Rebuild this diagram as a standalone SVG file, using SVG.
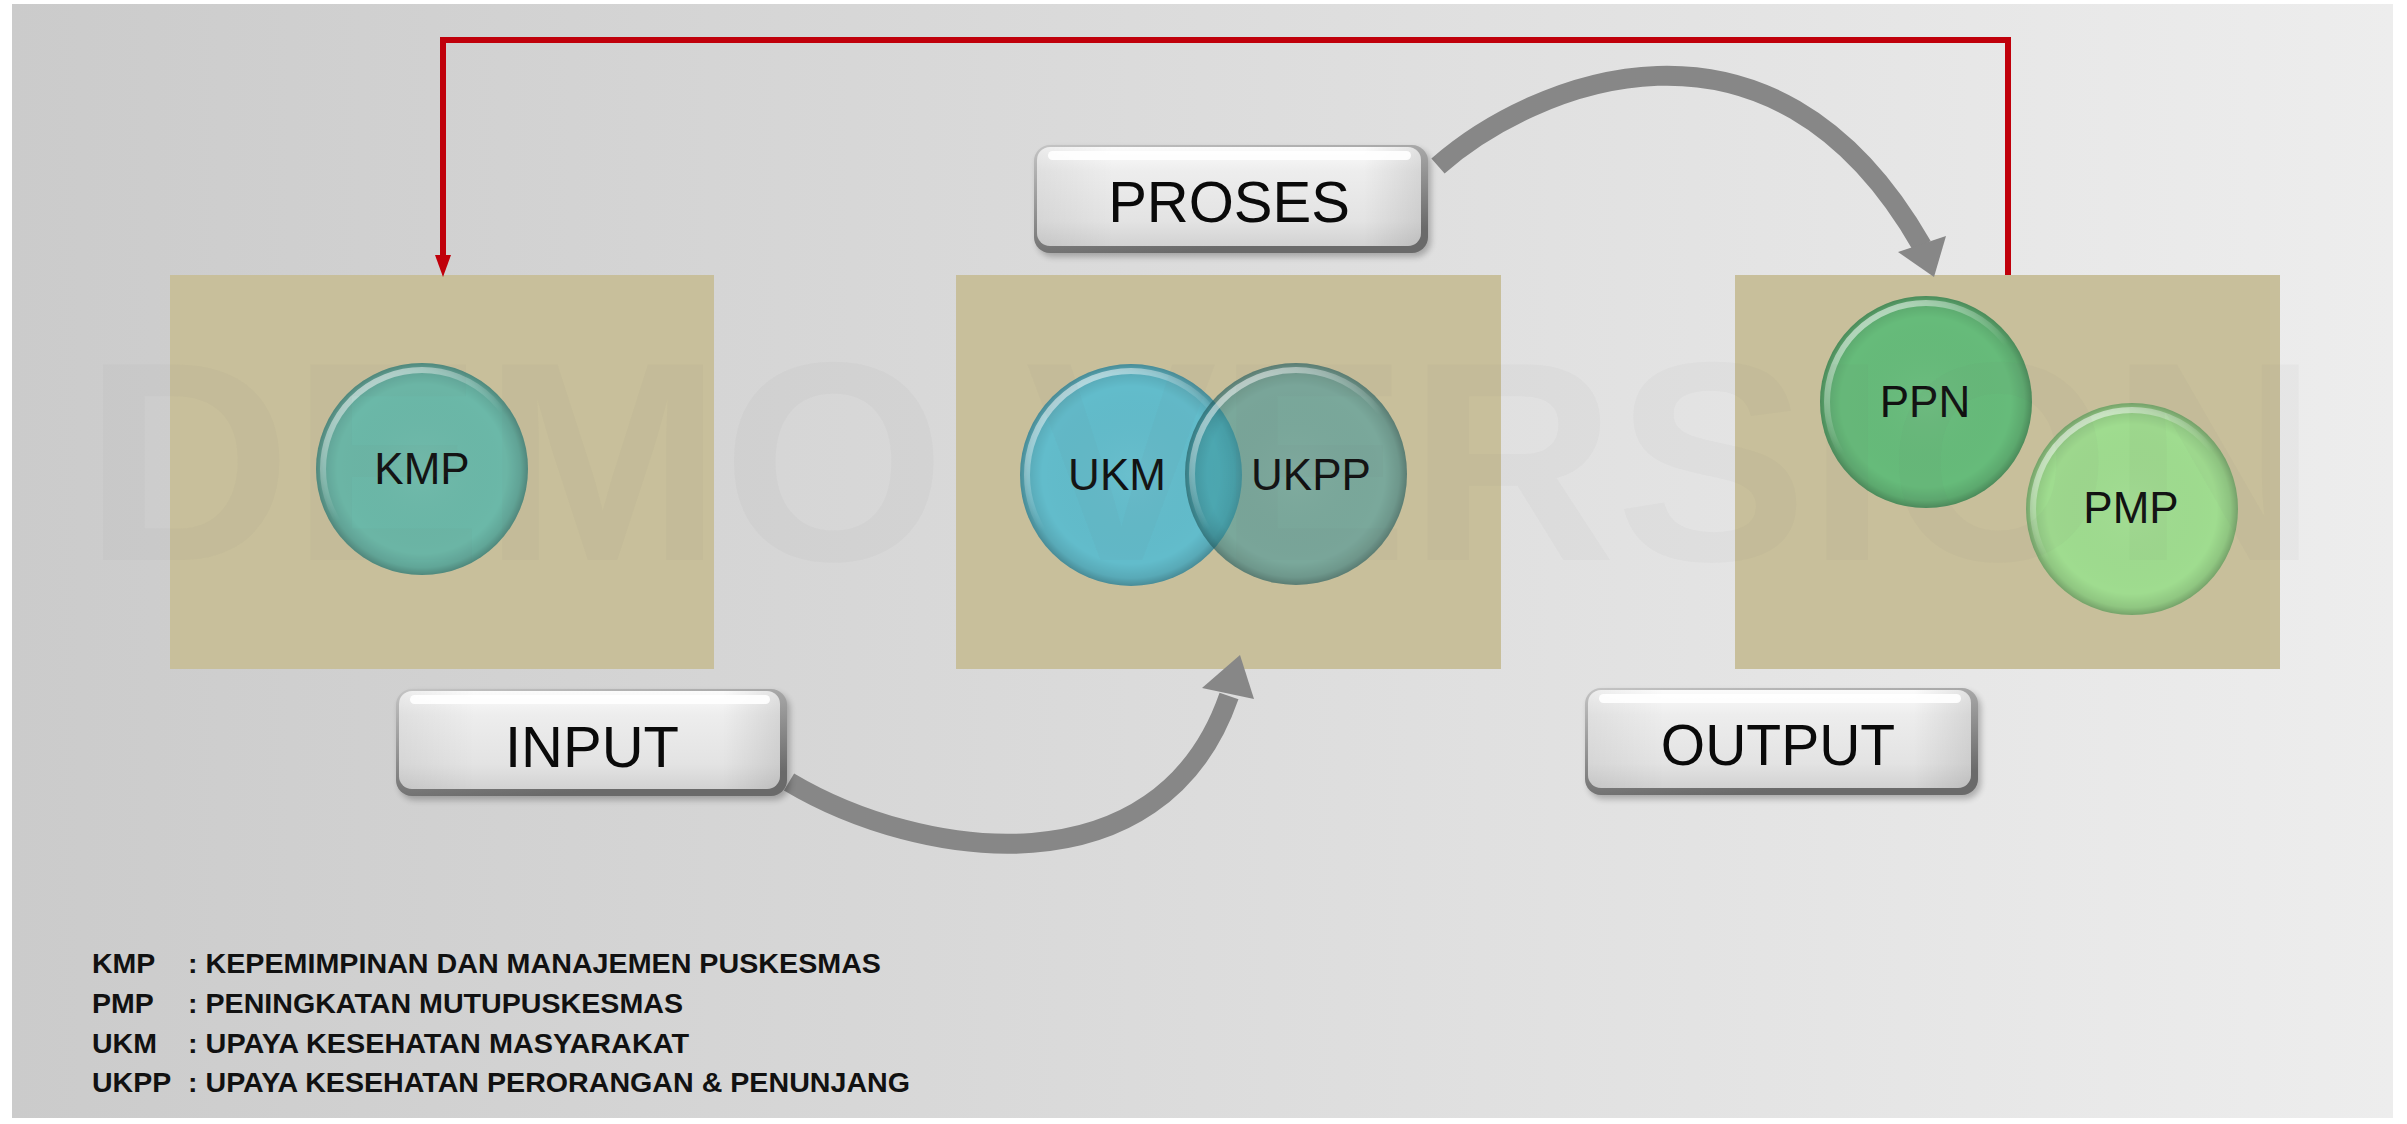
<svg xmlns="http://www.w3.org/2000/svg" width="2407" height="1124" viewBox="0 0 2407 1124">
  <defs>
    <linearGradient id="bgGrad" x1="0" y1="0" x2="1" y2="0">
      <stop offset="0" stop-color="#cbcbcb"/>
      <stop offset="1" stop-color="#ededed"/>
    </linearGradient>
    <!-- button bevel and face -->
    <linearGradient id="btnEdge" x1="0" y1="0" x2="0.35" y2="1">
      <stop offset="0" stop-color="#c4c4c4"/>
      <stop offset="0.6" stop-color="#8e8e8e"/>
      <stop offset="1" stop-color="#6a6a6a"/>
    </linearGradient>
    <linearGradient id="btnFace" x1="0" y1="0" x2="0" y2="1">
      <stop offset="0" stop-color="#fbfbfb"/>
      <stop offset="0.25" stop-color="#ededed"/>
      <stop offset="0.75" stop-color="#e3e3e3"/>
      <stop offset="1" stop-color="#d2d2d2"/>
    </linearGradient>
    <linearGradient id="btnSide" x1="0" y1="0" x2="1" y2="0">
      <stop offset="0" stop-color="#000" stop-opacity="0.06"/>
      <stop offset="0.2" stop-color="#000" stop-opacity="0"/>
      <stop offset="0.85" stop-color="#000" stop-opacity="0"/>
      <stop offset="1" stop-color="#000" stop-opacity="0.1"/>
    </linearGradient>
    <!-- glossy orb overlays -->
    <radialGradient id="orbShade" cx="0.5" cy="0.5" r="0.5">
      <stop offset="0" stop-color="#fff" stop-opacity="0.05"/>
      <stop offset="0.8" stop-color="#000" stop-opacity="0"/>
      <stop offset="0.93" stop-color="#000" stop-opacity="0.1"/>
      <stop offset="1" stop-color="#000" stop-opacity="0.26"/>
    </radialGradient>
    <linearGradient id="rimHi" x1="0.25" y1="0" x2="0.55" y2="0.45">
      <stop offset="0" stop-color="#fff" stop-opacity="0.6"/>
      <stop offset="1" stop-color="#fff" stop-opacity="0"/>
    </linearGradient>
    <filter id="soft" x="-10%" y="-10%" width="120%" height="130%">
      <feGaussianBlur stdDeviation="3"/>
    </filter>
    <marker id="redHead" viewBox="0 0 22 16" markerUnits="userSpaceOnUse" markerWidth="22" markerHeight="16" refX="0" refY="8" orient="auto">
      <path d="M0,0 L22,8 L0,16 z" fill="#c0000b"/>
    </marker>
    <style>
      .box { fill: #c8bf9b; }
      .orb-label { font-family: "Liberation Sans", Arial, sans-serif; font-size: 44px; fill: #111; text-anchor: middle; }
      .btn-label { font-family: "Liberation Sans", Arial, sans-serif; font-size: 58px; fill: #0a0a0a; text-anchor: middle; }
      .legend { font-family: "Liberation Sans", Arial, sans-serif; font-weight: bold; font-size: 28.5px; fill: #111; }
      .flow { fill: none; stroke: #878787; stroke-width: 20; }
      .flow-head { fill: #878787; }
      .feedback { fill: none; stroke: #c0000b; stroke-width: 6; }
      .shade { fill: url(#orbShade); }
      .rim { fill: none; stroke: url(#rimHi); stroke-width: 6; }
    </style>
  </defs>

  <!-- page background -->
  <rect width="2407" height="1124" fill="#ffffff"/>
  <rect x="12" y="4" width="2381" height="1114" fill="url(#bgGrad)"/>

  <!-- stage panels -->
  <g id="panel-input"><rect class="box" x="170" y="275" width="544" height="394"/></g>
  <g id="panel-process"><rect class="box" x="956" y="275" width="545" height="394"/></g>
  <g id="panel-output"><rect class="box" x="1735" y="275" width="545" height="394"/></g>

  <!-- connectors -->
  <g id="connectors">
    <path class="feedback" d="M2008,275 V40 H443 V255" marker-end="url(#redHead)"/>
    <path class="flow" d="M789,782 C920,860 1160,895 1229,696"/>
    <polygon class="flow-head" points="1202,688 1240,655 1254,699"/>
    <path class="flow" d="M1438,166 C1530,85 1770,-20 1922,246"/>
    <polygon class="flow-head" points="1898,252 1934,277 1946,236"/>
  </g>

  <!-- labels -->
  <g id="btn-input">
    <rect x="399" y="693" width="391" height="107" rx="16" fill="#000" opacity="0.25" filter="url(#soft)"/>
    <rect x="396" y="689" width="391" height="107" rx="16" fill="url(#btnEdge)"/>
    <rect x="399" y="691" width="381" height="98" rx="13" fill="url(#btnFace)"/>
    <rect x="399" y="691" width="381" height="98" rx="13" fill="url(#btnSide)"/>
    <rect x="410" y="695" width="360" height="9" rx="4.5" fill="#fff" opacity="0.9"/>
    <text class="btn-label" x="592" y="767">INPUT</text>
  </g>
  <g id="btn-proses">
    <rect x="1037" y="149" width="394" height="108" rx="16" fill="#000" opacity="0.25" filter="url(#soft)"/>
    <rect x="1034" y="145" width="394" height="108" rx="16" fill="url(#btnEdge)"/>
    <rect x="1037" y="147" width="384" height="99" rx="13" fill="url(#btnFace)"/>
    <rect x="1037" y="147" width="384" height="99" rx="13" fill="url(#btnSide)"/>
    <rect x="1048" y="151" width="363" height="9" rx="4.5" fill="#fff" opacity="0.9"/>
    <text class="btn-label" x="1229" y="222">PROSES</text>
  </g>
  <g id="btn-output">
    <rect x="1588" y="692" width="393" height="107" rx="16" fill="#000" opacity="0.25" filter="url(#soft)"/>
    <rect x="1585" y="688" width="393" height="107" rx="16" fill="url(#btnEdge)"/>
    <rect x="1588" y="690" width="383" height="98" rx="13" fill="url(#btnFace)"/>
    <rect x="1588" y="690" width="383" height="98" rx="13" fill="url(#btnSide)"/>
    <rect x="1599" y="694" width="362" height="9" rx="4.5" fill="#fff" opacity="0.9"/>
    <text class="btn-label" x="1778" y="765" style="font-size:57px">OUTPUT</text>
  </g>

  <!-- orbs -->
  <g id="node-kmp">
    <circle cx="422" cy="469" r="106" fill="#6bb8a8"/>
    <circle class="shade" cx="422" cy="469" r="106"/>
    <circle class="rim" cx="422" cy="469" r="99"/>
    <text class="orb-label" x="422" y="484">KMP</text>
  </g>
  <g id="node-ukm">
    <circle cx="1131" cy="475" r="111" fill="#62bccb"/>
    <circle class="shade" cx="1131" cy="475" r="111"/>
    <circle class="rim" cx="1131" cy="475" r="104"/>
    <text class="orb-label" x="1117" y="490">UKM</text>
  </g>
  <g id="node-ukpp">
    <circle cx="1296" cy="474" r="111" fill="#3a959b" fill-opacity="0.55"/>
    <circle class="shade" cx="1296" cy="474" r="111"/>
    <circle class="rim" cx="1296" cy="474" r="104"/>
    <text class="orb-label" x="1311" y="490">UKPP</text>
  </g>
  <g id="node-ppn">
    <circle cx="1926" cy="402" r="106" fill="#66bb7a"/>
    <circle class="shade" cx="1926" cy="402" r="106"/>
    <circle class="rim" cx="1926" cy="402" r="99"/>
    <text class="orb-label" x="1925" y="417">PPN</text>
  </g>
  <g id="node-pmp">
    <circle cx="2132" cy="509" r="106" fill="#9fdc8f"/>
    <circle class="shade" cx="2132" cy="509" r="106"/>
    <circle class="rim" cx="2132" cy="509" r="99"/>
    <text class="orb-label" x="2131" y="523">PMP</text>
  </g>

  <!-- legend -->
  <g id="legend">
    <text class="legend" x="92" y="973">KMP</text>
    <text class="legend" x="188" y="973" textLength="693" lengthAdjust="spacingAndGlyphs">: KEPEMIMPINAN DAN MANAJEMEN PUSKESMAS</text>
    <text class="legend" x="92" y="1013">PMP</text>
    <text class="legend" x="188" y="1013" textLength="495" lengthAdjust="spacingAndGlyphs">: PENINGKATAN MUTUPUSKESMAS</text>
    <text class="legend" x="92" y="1053">UKM</text>
    <text class="legend" x="188" y="1053" textLength="501" lengthAdjust="spacingAndGlyphs">: UPAYA KESEHATAN MASYARAKAT</text>
    <text class="legend" x="92" y="1092">UKPP</text>
    <text class="legend" x="188" y="1092" textLength="722" lengthAdjust="spacingAndGlyphs">: UPAYA KESEHATAN PERORANGAN &amp; PENUNJANG</text>
  </g>

  <!-- faint watermark across the middle -->
  <text x="84" y="560" textLength="2234" lengthAdjust="spacingAndGlyphs" font-family="Liberation Sans, Arial, sans-serif" font-weight="bold" font-size="284" fill="#6f6f6f" fill-opacity="0.045">DEMO VERSION</text>
</svg>
